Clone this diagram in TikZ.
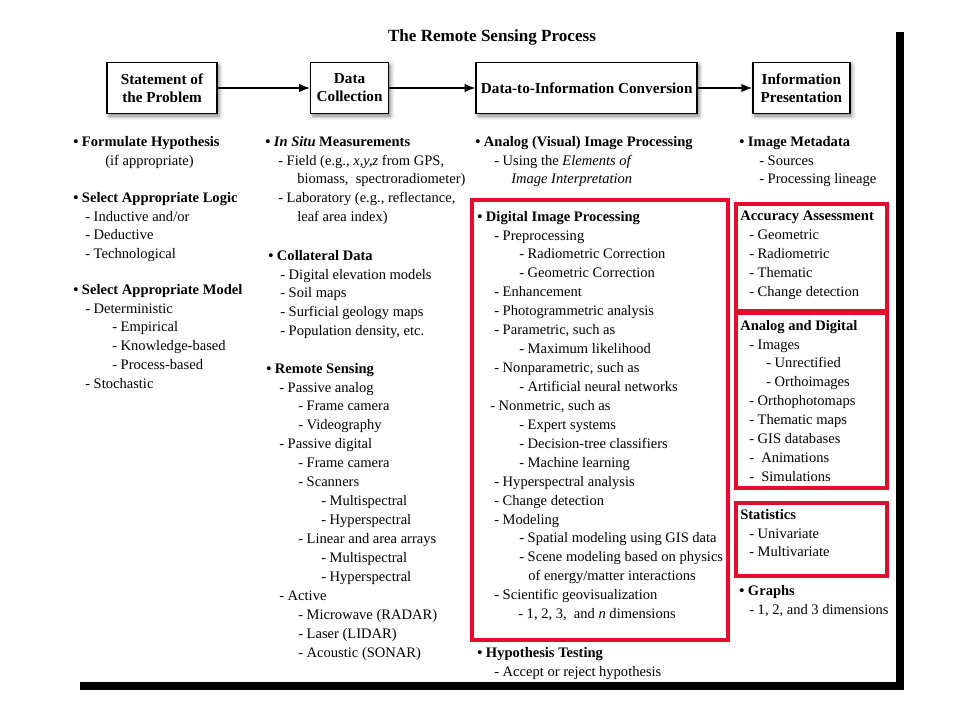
\documentclass[tikz,border=0pt]{standalone}
\usepackage{fontspec}
\setmainfont{Liberation Serif}
\usepackage{tikz}
\usetikzlibrary{arrows.meta,positioning,shadows.blur}
\tikzset{>={Latex[length=8pt,width=6.5pt]}}
\definecolor{framered}{RGB}{228,12,44}
\newlength\px
\setlength\px{0.75pt}

\begin{document}
\begin{tikzpicture}[x=0.75pt,y=-0.75pt,
	stepbox/.style={draw,line width=1.2pt,fill=white,align=center,inner sep=2pt,
		minimum height=38.25pt,font=\fontsize{11.4}{13.5}\selectfont\bfseries,
		blur shadow={shadow xshift=1.5pt,shadow yshift=-2pt,shadow blur radius=3pt,shadow opacity=50}},
	flow/.style={->,line width=1.2pt},
	block/.style={anchor=north west,yshift=7.7pt,align=left,inner sep=0pt,
		font=\fontsize{10.9}{14.2}\selectfont,execute at begin node=\strut},
	redframe/.style={draw=framered,line width=2.5pt}]
	\useasboundingbox (0,0) rectangle (960,720);
	\fill (896,32) rectangle (904,690);
	\fill (80,682) rectangle (904,690);

	\node[font=\fontsize{12.8}{15}\selectfont\bfseries] (title) at (492,37) {The Remote Sensing Process};

	% process steps
	\node[stepbox,minimum width=82.5pt] (problem) at (162,88) {Statement of\\the Problem};
	\node[stepbox,minimum width=58.5pt,right=69pt of problem] (collect) {Data\\Collection};
	\node[stepbox,minimum width=165.75pt,right=64.5pt of collect] (convert) {Data-to-Information Conversion};
	\node[stepbox,minimum width=72.75pt,right=40.5pt of convert] (present) {Information\\Presentation};
	\draw[flow] (problem) -- (collect);
	\draw[flow] (collect) -- (convert);
	\draw[flow] (convert) -- (present);

	% red frames
	\draw[redframe] (472,200) rectangle (728,640);
	\draw[redframe] (736,204) rectangle (887,311);
	\draw[redframe] (736,313) rectangle (887,488);
	\draw[redframe] (736,503) rectangle (887,576);

	% statement of the problem
	\node[block] (hypo) at (73,146) {\textbf{• Formulate Hypothesis}\\
		\hspace*{32\px}(if appropriate)};
	\node[block] (logic) at (73,202) {\textbf{• Select Appropriate Logic}\\
		\hspace*{12\px}- Inductive and/or\\
		\hspace*{12\px}- Deductive\\
		\hspace*{12\px}- Technological};
	\node[block] (model) at (73,294) {\textbf{• Select Appropriate Model}\\
		\hspace*{12\px}- Deterministic\\
		\hspace*{39\px}- Empirical\\
		\hspace*{39\px}- Knowledge-based\\
		\hspace*{39\px}- Process-based\\
		\hspace*{12\px}- Stochastic};

	% data collection
	\node[block] (insitu) at (265,146) {\textbf{• \textit{In Situ} Measurements}\\
		\hspace*{13\px}- Field (e.g., \textit{x,y,z} from GPS,\\
		\hspace*{32\px}biomass,\ \ spectroradiometer)\\
		\hspace*{13\px}- Laboratory (e.g., reflectance,\\
		\hspace*{32\px}leaf area index)};
	\node[block] (collateral) at (268,260) {\textbf{• Collateral Data}\\
		\hspace*{12\px}- Digital elevation models\\
		\hspace*{12\px}- Soil maps\\
		\hspace*{12\px}- Surficial geology maps\\
		\hspace*{12\px}- Population density, etc.};
	\node[block] (sensing) at (266,373) {\textbf{• Remote Sensing}\\
		\hspace*{13\px}- Passive analog\\
		\hspace*{32\px}- Frame camera\\
		\hspace*{32\px}- Videography\\
		\hspace*{13\px}- Passive digital\\
		\hspace*{32\px}- Frame camera\\
		\hspace*{32\px}- Scanners\\
		\hspace*{55\px}- Multispectral\\
		\hspace*{55\px}- Hyperspectral\\
		\hspace*{32\px}- Linear and area arrays\\
		\hspace*{55\px}- Multispectral\\
		\hspace*{55\px}- Hyperspectral\\
		\hspace*{13\px}- Active\\
		\hspace*{32\px}- Microwave (RADAR)\\
		\hspace*{32\px}- Laser (LIDAR)\\
		\hspace*{32\px}- Acoustic (SONAR)};

	% data-to-information conversion
	\node[block] (analog) at (475,146) {\textbf{• Analog (Visual) Image Processing}\\
		\hspace*{19\px}- Using the \textit{Elements of}\\
		\hspace*{36\px}\textit{Image Interpretation}};
	\node[block] (digital) at (477,221) {\textbf{• Digital Image Processing}\\
		\hspace*{17\px}- Preprocessing\\
		\hspace*{42\px}- Radiometric Correction\\
		\hspace*{42\px}- Geometric Correction\\
		\hspace*{17\px}- Enhancement\\
		\hspace*{17\px}- Photogrammetric analysis\\
		\hspace*{17\px}- Parametric, such as\\
		\hspace*{42\px}- Maximum likelihood\\
		\hspace*{17\px}- Nonparametric, such as\\
		\hspace*{42\px}- Artificial neural networks\\
		\hspace*{13\px}- Nonmetric, such as\\
		\hspace*{42\px}- Expert systems\\
		\hspace*{42\px}- Decision-tree classifiers\\
		\hspace*{42\px}- Machine learning\\
		\hspace*{17\px}- Hyperspectral analysis\\
		\hspace*{17\px}- Change detection\\
		\hspace*{17\px}- Modeling\\
		\hspace*{42\px}- Spatial modeling using GIS data\\
		\hspace*{42\px}- Scene modeling based on physics\\
		\hspace*{51\px}of energy/matter interactions\\
		\hspace*{17\px}- Scientific geovisualization\\
		\hspace*{41\px}- 1, 2, 3,\ \ and \textit{n} dimensions};
	\node[block] (testing) at (477,657) {\textbf{• Hypothesis Testing}\\
		\hspace*{17\px}- Accept or reject hypothesis};

	% information presentation
	\node[block] (metadata) at (739,146) {\textbf{• Image Metadata}\\
		\hspace*{20\px}- Sources\\
		\hspace*{20\px}- Processing lineage};
	\node[block] (accuracy) at (740,221) {\textbf{Accuracy Assessment}\\
		\hspace*{9\px}- Geometric\\
		\hspace*{9\px}- Radiometric\\
		\hspace*{9\px}- Thematic\\
		\hspace*{9\px}- Change detection};
	\node[block] (products) at (740,330) {\textbf{Analog and Digital}\\
		\hspace*{9\px}- Images\\
		\hspace*{26\px}- Unrectified\\
		\hspace*{26\px}- Orthoimages\\
		\hspace*{9\px}- Orthophotomaps\\
		\hspace*{9\px}- Thematic maps\\
		\hspace*{9\px}- GIS databases\\
		\hspace*{9\px}-\ \ Animations\\
		\hspace*{9\px}-\ \ Simulations};
	\node[block] (stats) at (740,519) {\textbf{Statistics}\\
		\hspace*{9\px}- Univariate\\
		\hspace*{9\px}- Multivariate};
	\node[block] (graphs) at (739,595) {\textbf{• Graphs}\\
		\hspace*{10\px}- 1, 2, and 3 dimensions};
\end{tikzpicture}
\end{document}
